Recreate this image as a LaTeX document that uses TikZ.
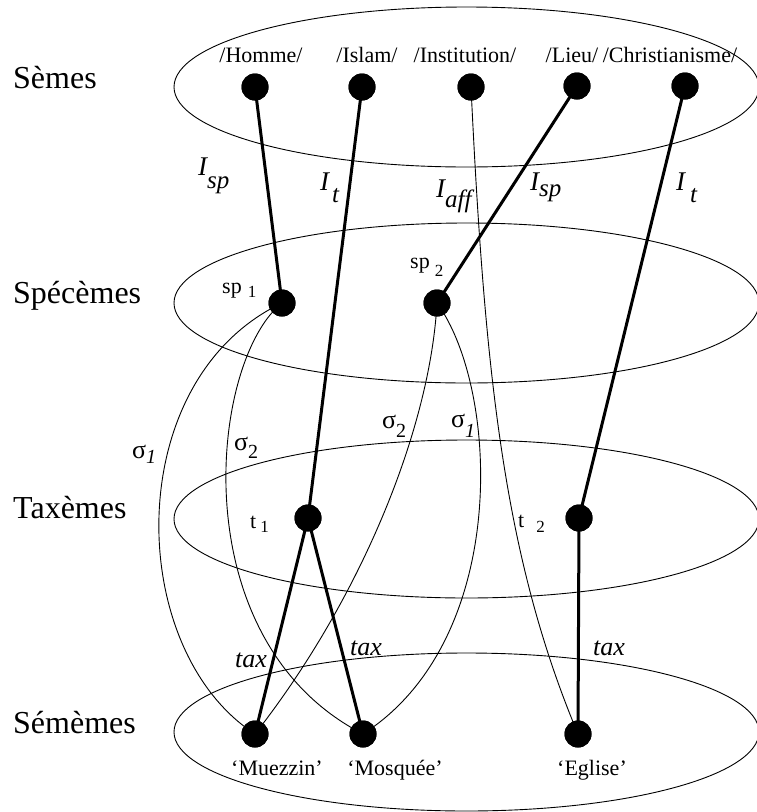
\documentclass[tikz,border=0pt]{standalone}
\usepackage{fontspec}
\setmainfont{Liberation Serif}
\begin{document}
\begin{tikzpicture}[x=1pt,y=-1pt,
  dot/.style={circle,fill=black,draw=none,minimum size=27pt,inner sep=0pt},
  thickl/.style={line width=3pt},
  thinl/.style={line width=0.9pt},
  layer/.style={line width=0.9pt},
  big/.style={font=\fontsize{32}{36}\selectfont,anchor=base west,inner sep=0pt},
  sem/.style={font=\fontsize{22}{24}\selectfont,anchor=base,inner sep=0pt},
  sub/.style={font=\fontsize{22}{24}\selectfont,anchor=base west,inner sep=0pt},
  ilab/.style={font=\fontsize{27}{30}\selectfont\itshape,anchor=base west,inner sep=0pt},
  slab/.style={font=\fontsize{26}{30}\selectfont,anchor=base west,inner sep=0pt},
  taxlab/.style={font=\fontsize{26}{30}\selectfont\itshape,anchor=base west,inner sep=0pt}
]
\useasboundingbox (0,0) rectangle (757,812);
\fill[white] (0,0) rectangle (757,812);

% layers
\draw[layer] (466.5,87) ellipse [x radius=292.5pt, y radius=80pt];
\draw[layer] (466.5,303) ellipse [x radius=292.5pt, y radius=80pt];
\draw[layer] (466.5,519) ellipse [x radius=292.5pt, y radius=79pt];
\draw[layer] (466.5,732) ellipse [x radius=292.5pt, y radius=79pt];

\node[big] (lsemes) at (13,88) {Sèmes};
\node[big] (lspec) at (13,303) {Spécèmes};
\node[big] (ltax) at (13,518) {Taxèmes};
\node[big] (lsemem) at (13,733) {Sémèmes};

% seme labels
\node[sem] (thomme) at (261,62) {/Homme/};
\node[sem] (tislam) at (367,62) {/Islam/};
\node[sem] (tinst) at (465,62) {/Institution/};
\node[sem] (tlieu) at (572,62) {/Lieu/};
\node[sem] (tchr) at (670,62) {/Christianisme/};

% dots
\node[dot] (h) at (255,87) {};
\node[dot] (isl) at (362,87) {};
\node[dot] (inst) at (471,87) {};
\node[dot] (lieu) at (577,86) {};
\node[dot] (chr) at (685,86) {};
\node[dot] (sp1) at (282,303) {};
\node[dot] (sp2) at (437,303) {};
\node[dot] (t1) at (308,518) {};
\node[dot] (t2) at (579,518) {};
\node[dot] (mu) at (255,734) {};
\node[dot] (mo) at (363,734) {};
\node[dot] (eg) at (578,734) {};

% thick connectors
\draw[thickl] (h.center) -- (sp1.center);
\draw[thickl] (isl.center) -- (t1.center);
\draw[thickl] (lieu.center) -- (sp2.center);
\draw[thickl] (chr.center) -- (t2.center);
\draw[thickl] (t1.center) -- (mu.center);
\draw[thickl] (t1.center) -- (mo.center);
\draw[thickl] (t2.center) -- (eg.center);

% thin connectors
\draw[thinl] (inst.center) .. controls (485,380) and (505,560) .. (eg.center);
\draw[thinl] (sp1.center) .. controls (120,380) and (125,650) .. (mu.center);
\draw[thinl] (sp1.center) .. controls (210,360) and (180,640) .. (mo.center);
\draw[thinl] (sp2.center) .. controls (430,430) and (360,600) .. (mu.center);
\draw[thinl] (sp2.center) .. controls (500,390) and (510,640) .. (mo.center);

% redraw dots on top
\foreach \n in {h,isl,inst,lieu,chr,sp1,sp2,t1,t2,mu,mo,eg}
  \fill (\n) circle [radius=13.5pt];

% node sub labels
\node[sub] (lsp1) at (222,293) {sp\hspace{6pt}\raisebox{-4pt}{\fontsize{17}{17}\selectfont 1}};
\node[sub] (lsp2) at (410,268) {sp\hspace{5pt}\raisebox{-8pt}{\fontsize{17}{17}\selectfont 2}};
\node[sub] (lt1) at (250,528) {t\hspace{4pt}\raisebox{-4pt}{\fontsize{17}{17}\selectfont 1}};
\node[sub] (lt2) at (518,527) {t\hspace{12pt}\raisebox{-5pt}{\fontsize{17}{17}\selectfont 2}};

% I labels
\node[ilab] (isp1) at (198,175) {I\hspace{0pt}\raisebox{-13pt}{\fontsize{25}{28}\selectfont sp}};
\node[ilab] (it1) at (320,190) {I\hspace{3pt}\raisebox{-12pt}{\fontsize{25}{28}\selectfont t}};
\node[ilab] (iaff) at (436,197) {I\hspace{0pt}\raisebox{-10pt}{\fontsize{25}{28}\selectfont aff}};
\node[ilab] (isp2) at (530,190) {I\hspace{0pt}\raisebox{-6pt}{\fontsize{25}{28}\selectfont sp}};
\node[ilab] (it2) at (676,190) {I\hspace{5pt}\raisebox{-12pt}{\fontsize{25}{28}\selectfont t}};

% sigma labels
\node[slab] (s1a) at (132,458) {σ\raisebox{-5pt}{\fontsize{20}{22}\selectfont\itshape 1}};
\node[slab] (s2a) at (234,450) {σ\raisebox{-8pt}{\fontsize{20}{22}\selectfont 2}};
\node[slab] (s2b) at (382,428) {σ\raisebox{-9pt}{\fontsize{20}{22}\selectfont 2}};
\node[slab] (s1b) at (451,427) {σ\raisebox{-10pt}{\fontsize{20}{22}\selectfont\itshape 1}};

% tax labels
\node[taxlab] (tx1) at (235,667) {tax};
\node[taxlab] (tx2) at (350,655) {tax};
\node[taxlab] (tx3) at (593,655) {tax};

% sememe labels
\node[sem] (smu) at (277,775) {‘Muezzin’};
\node[sem] (smo) at (395,775) {‘Mosquée’};
\node[sem] (seg) at (592,775) {‘Eglise’};
\end{tikzpicture}
\end{document}
